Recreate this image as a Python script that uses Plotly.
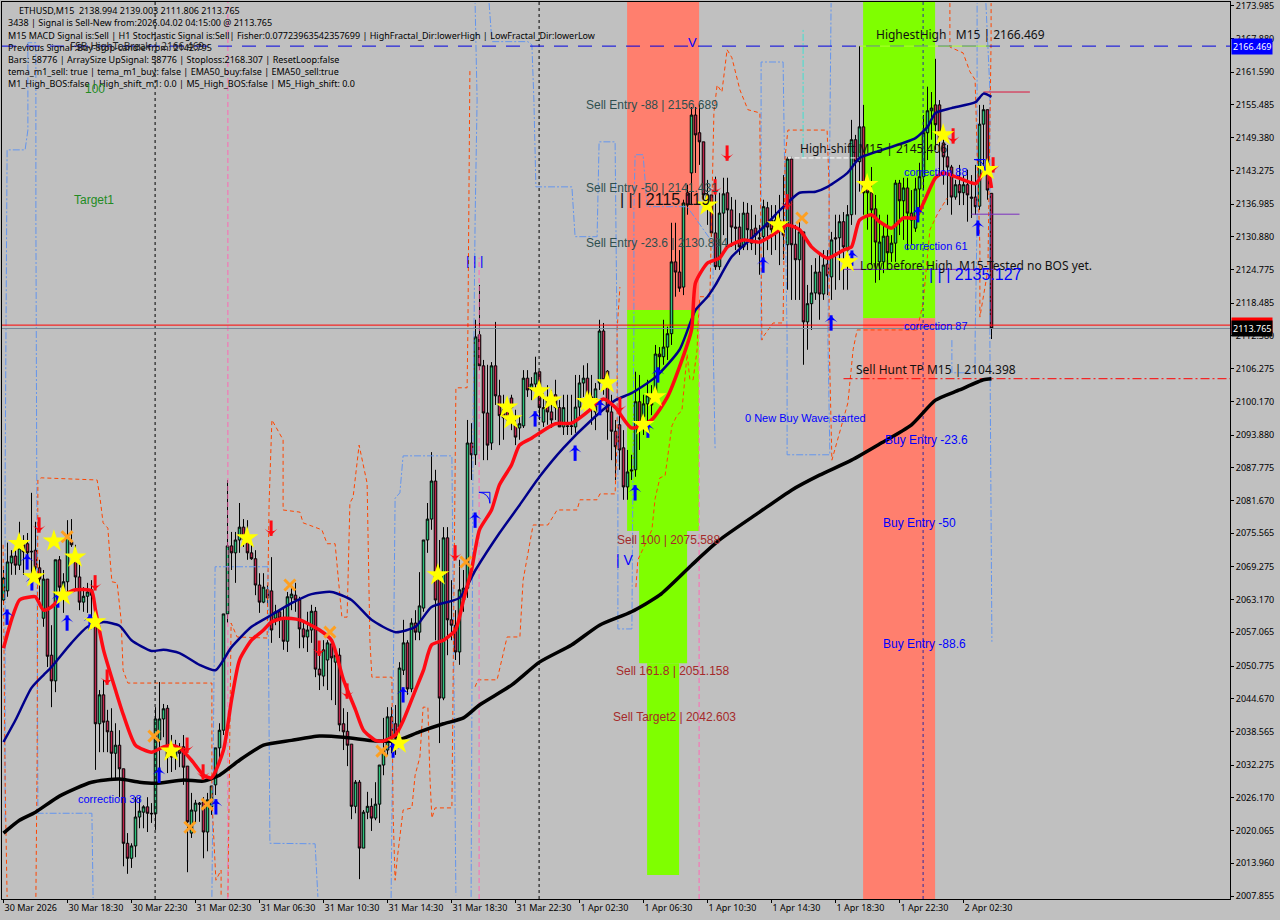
import plotly.graph_objects as go

# ---------- candles (M15 bars) ----------
opens = [
2063.1,2064.8,2070.0,2071.3,2069.6,2073.4,2073.6,2072.2,2072.4,2069.1,
2059.7,2067.0,2052.8,2048.0,2070.6,2063.7,2066.5,2073.9,2071.5,2067.4,
2062.7,2063.8,2065.0,2059.0,2040.0,2045.4,2040.5,2038.6,2034.5,2036.0,
2031.6,2017.7,2014.9,2017.2,2022.6,2023.5,2024.5,2023.3,2023.2,2037.0,
2040.9,2042.9,2035.1,2033.8,2035.1,2035.7,2032.1,2019.6,2023.7,2025.2,
2025.4,2019.8,2024.5,2028.6,2035.5,2038.8,2060.5,2073.2,2071.9,2074.3,
2076.7,2075.2,2071.9,2070.8,2065.9,2062.7,2065.0,2064.8,2059.7,2060.9,
2059.7,2055.4,2063.5,2064.0,2063.1,2057.7,2056.2,2057.5,2061.0,2050.2,
2048.9,2051.9,2054.9,2051.5,2052.8,2040.0,2038.6,2036.2,2024.6,2029.1,
2016.8,2023.5,2024.6,2022.4,2025.0,2032.3,2035.1,2041.3,2040.0,2039.4,
2050.0,2055.1,2046.5,2058.8,2057.1,2061.6,2074.3,2078.2,2085.3,2067.8,
2044.8,2074.7,2059.4,2058.4,2053.4,2063.1,2065.3,2092.4,2090.2,2112.6,
2106.8,2098.0,2092.4,2106.8,2101.2,2098.6,2099.5,2100.8,2095.8,2095.2,
2095.6,2104.5,2102.3,2103.4,2105.7,2096.3,2100.4,2098.2,2101.4,2099.0,
2095.4,2095.6,2095.6,2095.4,2099.1,2103.6,2104.5,2101.0,2098.2,2103.6,
2113.3,2105.8,2098.2,2094.6,2095.8,2091.5,2084.2,2087.4,2087.4,2100.1,
2097.3,2099.7,2101.2,2101.7,2109.0,2108.5,2110.3,2112.8,2126.2,2124.3,
2121.5,2139.1,2142.8,2153.6,2150.3,2148.6,2138.7,2138.7,2131.6,2125.3,
2135.3,2139.1,2135.9,2132.7,2132.7,2129.0,2135.3,2132.2,2132.5,2130.7,
2130.9,2136.3,2134.0,2132.2,2134.0,2132.5,2129.4,2145.4,2129.5,2126.6,
2131.8,2115.0,2118.4,2120.4,2124.3,2120.2,2125.8,2123.4,2130.7,2130.7,
2133.7,2128.4,2135.0,2149.0,2144.9,2151.4,2140.6,2139.1,2136.1,2126.2,
2126.2,2131.0,2127.9,2129.7,2140.9,2137.6,2140.0,2135.3,2132.5,2139.8,
2142.1,2150.3,2154.4,2155.5,2155.5,2148.4,2145.8,2143.9,2138.3,2140.6,
2139.1,2140.6,2138.3,2138.3,2136.6,2151.9,2154.6,2138.994]
highs = [
2068.7,2073.8,2072.4,2073.4,2077.7,2075.2,2075.6,2083.1,2077.7,2070.6,
2068.7,2067.0,2058.4,2070.6,2071.3,2068.1,2078.0,2078.2,2073.4,2070.6,
2065.5,2066.3,2066.8,2060.3,2046.3,2048.2,2042.6,2042.9,2040.1,2038.8,
2031.6,2019.6,2017.7,2026.3,2026.3,2024.8,2026.3,2025.2,2043.1,2047.8,
2043.7,2043.5,2037.9,2037.0,2036.4,2037.9,2032.1,2027.1,2025.8,2025.4,
2026.3,2027.1,2028.4,2035.5,2040.1,2060.5,2085.5,2075.8,2075.8,2081.2,
2078.2,2078.0,2073.7,2072.4,2068.1,2068.1,2065.9,2071.1,2062.2,2061.2,
2061.8,2064.6,2065.5,2066.3,2063.7,2058.8,2060.9,2062.2,2061.8,2053.8,
2055.6,2055.6,2055.6,2053.8,2054.1,2042.9,2042.2,2036.2,2029.5,2029.5,
2023.9,2027.3,2026.1,2029.1,2032.3,2041.1,2043.1,2043.1,2043.5,2051.5,
2059.4,2055.6,2059.7,2061.2,2068.3,2074.3,2081.2,2090.7,2087.4,2074.3,
2076.7,2076.7,2066.8,2061.2,2070.6,2068.7,2096.7,2096.1,2115.4,2121.9,
2107.9,2107.0,2107.5,2115.0,2104.2,2101.4,2100.8,2101.4,2098.6,2097.3,
2106.0,2106.0,2104.7,2108.5,2105.7,2101.7,2103.2,2102.3,2104.2,2100.4,
2101.4,2101.4,2101.4,2105.1,2105.1,2106.9,2107.3,2105.1,2103.6,2115.4,
2114.8,2106.0,2101.4,2096.7,2099.5,2094.8,2091.1,2090.2,2105.7,2105.1,
2101.4,2104.2,2103.2,2110.7,2110.3,2115.4,2114.1,2133.5,2133.5,2128.4,
2137.8,2140.6,2155.1,2155.1,2155.5,2148.6,2141.5,2138.7,2142.1,2139.1,
2141.9,2141.9,2138.3,2137.8,2135.3,2137.4,2137.2,2136.8,2135.0,2133.1,
2137.8,2137.4,2136.8,2136.8,2138.7,2142.4,2145.8,2145.8,2133.1,2133.8,
2131.8,2121.9,2125.6,2126.9,2127.5,2128.4,2128.4,2131.8,2135.0,2135.0,
2135.5,2136.8,2152.7,2149.9,2166.5,2155.5,2142.1,2143.9,2138.7,2135.0,
2133.1,2135.0,2131.2,2141.5,2141.5,2141.9,2141.9,2139.6,2141.9,2144.7,
2153.6,2158.9,2157.9,2164.1,2156.4,2149.9,2148.0,2144.3,2141.5,2144.3,
2142.4,2143.4,2142.4,2144.3,2155.5,2155.5,2154.6,2139.003]
lows = [
2062.2,2063.7,2067.8,2067.8,2068.7,2067.8,2070.0,2067.4,2066.8,2063.1,
2058.1,2050.6,2043.1,2045.9,2064.0,2060.7,2064.4,2073.0,2065.0,2061.2,
2060.9,2060.7,2059.9,2031.4,2034.7,2034.7,2034.7,2029.5,2029.5,2026.3,
2013.4,2012.0,2013.1,2015.1,2020.5,2020.5,2019.8,2021.5,2020.2,2028.9,
2037.5,2030.8,2031.0,2031.4,2031.9,2028.6,2012.3,2018.7,2021.5,2021.7,
2014.9,2016.2,2023.0,2026.7,2033.2,2037.9,2058.8,2068.7,2066.3,2071.9,
2073.0,2070.6,2070.6,2064.0,2060.7,2062.5,2062.2,2055.1,2058.4,2056.0,
2053.8,2053.4,2061.2,2060.9,2054.1,2054.1,2053.4,2055.1,2048.7,2046.3,
2047.0,2046.3,2044.4,2043.5,2038.6,2035.1,2032.1,2022.2,2023.3,2011.0,
2016.8,2022.2,2020.0,2022.0,2021.5,2030.4,2034.2,2034.5,2034.2,2036.0,
2049.1,2045.4,2045.9,2055.6,2055.6,2060.9,2071.9,2076.2,2055.6,2036.4,
2044.4,2052.8,2055.6,2051.9,2051.0,2060.9,2063.5,2085.5,2088.3,2106.0,
2089.2,2089.2,2091.1,2099.5,2092.0,2093.0,2095.8,2094.8,2092.0,2093.0,
2095.2,2101.0,2100.4,2102.3,2096.7,2095.4,2095.8,2095.2,2096.7,2095.4,
2093.9,2093.9,2093.9,2094.3,2096.7,2101.0,2100.4,2095.8,2094.8,2102.3,
2101.4,2093.0,2089.2,2085.5,2087.4,2081.8,2081.8,2085.5,2086.1,2091.1,
2093.9,2095.8,2097.6,2100.4,2106.0,2107.0,2107.9,2110.7,2119.7,2120.6,
2120.0,2135.0,2136.8,2142.8,2144.3,2137.8,2133.1,2130.9,2124.7,2124.7,
2131.2,2129.4,2129.0,2128.4,2127.5,2128.4,2128.4,2128.4,2127.5,2123.8,
2126.6,2128.4,2127.5,2128.4,2125.6,2126.6,2121.0,2119.1,2119.1,2119.1,
2107.0,2109.8,2113.5,2119.1,2115.4,2119.1,2120.0,2119.1,2121.0,2122.8,
2121.0,2121.0,2133.1,2135.0,2139.3,2135.0,2132.2,2125.6,2122.3,2122.8,
2124.1,2124.7,2126.2,2126.2,2131.2,2130.3,2128.4,2129.4,2131.8,2135.0,
2139.6,2145.2,2149.0,2147.1,2142.4,2140.6,2136.8,2135.0,2137.8,2136.8,
2136.8,2133.7,2134.4,2135.0,2135.9,2143.4,2137.8,2111.806]
closes = [
2067.2,2070.2,2071.3,2069.6,2072.8,2072.1,2071.9,2072.1,2069.1,2067.0,
2067.0,2052.6,2048.0,2070.6,2065.5,2066.5,2074.9,2073.4,2067.4,2062.7,
2063.8,2064.6,2064.0,2040.0,2045.4,2040.3,2038.5,2034.5,2036.0,2031.6,
2017.7,2014.9,2017.2,2022.6,2023.7,2024.5,2023.3,2023.2,2040.9,2040.9,
2042.8,2033.8,2033.8,2035.1,2034.5,2031.9,2021.7,2023.9,2025.2,2025.0,
2019.8,2025.8,2028.4,2035.5,2038.8,2060.5,2073.2,2071.9,2074.3,2076.7,
2074.5,2071.9,2070.8,2065.9,2062.7,2065.5,2063.5,2057.5,2060.9,2059.7,
2055.4,2063.7,2064.2,2063.1,2057.7,2056.2,2057.5,2061.0,2050.2,2049.1,
2053.8,2055.1,2052.3,2052.8,2039.8,2038.5,2036.0,2024.6,2029.1,2016.8,
2023.5,2024.6,2022.4,2025.0,2032.3,2035.1,2041.3,2037.3,2037.3,2050.4,
2055.1,2046.5,2058.8,2057.1,2062.0,2074.3,2078.2,2085.3,2063.1,2044.8,
2074.7,2059.4,2058.4,2053.4,2065.0,2065.3,2092.4,2090.2,2112.2,2106.8,
2098.0,2092.0,2106.8,2101.2,2097.5,2097.1,2096.7,2099.0,2093.5,2096.0,
2104.5,2102.3,2103.4,2105.5,2099.0,2099.0,2098.2,2096.7,2099.0,2095.4,
2099.0,2095.5,2095.5,2099.1,2103.6,2104.5,2101.0,2099.5,2102.5,2113.3,
2104.2,2098.2,2094.6,2091.7,2091.1,2084.2,2087.0,2087.2,2100.1,2095.4,
2099.7,2101.2,2099.5,2109.0,2108.5,2110.3,2112.8,2126.2,2124.3,2121.3,
2137.2,2136.8,2153.6,2149.9,2148.6,2138.7,2136.3,2131.6,2125.3,2135.3,
2138.9,2135.9,2132.7,2132.5,2129.0,2135.3,2132.2,2129.7,2131.2,2130.5,
2136.5,2132.7,2132.2,2134.0,2132.5,2131.2,2145.4,2129.4,2126.6,2131.8,
2115.0,2118.4,2120.4,2124.3,2120.2,2125.6,2123.6,2130.3,2130.5,2133.7,
2129.0,2135.0,2149.0,2144.9,2151.4,2139.1,2139.1,2135.9,2129.9,2129.9,
2131.0,2127.9,2129.7,2140.9,2137.6,2140.0,2135.3,2134.0,2139.8,2142.1,
2150.3,2154.4,2154.9,2151.8,2149.0,2145.8,2143.9,2138.3,2140.6,2139.1,
2140.6,2138.7,2138.1,2136.5,2151.9,2154.6,2139.6,2113.765]

# ---------- moving averages ----------
red_bars = [0,2,4,7,8,10,12,15,18,22,23,25,28,30,33,37,40,42,44,47,50,52,55,57,59,62,65,67,70,74,79,82,85,88,90,93,95,98,100,103,105,107,110,113,115,117,119,122,124,127,129,132,138,142,146,150,153,157,162,166,169,172,173,176,179,181,185,189,193,196,199,202,206,210,212,214,217,219,222,225,228,230,233,235,238,243,245,246,247]
red_line = [2054.1,2059.4,2063.1,2063.7,2063.7,2061.2,2061.8,2064.0,2065.0,2064.8,2061.2,2053.8,2046.3,2041.6,2036.0,2034.7,2035.7,2036.0,2035.5,2033.2,2030.4,2029.9,2035.1,2044.4,2051.9,2055.6,2057.5,2059.0,2059.7,2059.4,2057.5,2055.6,2048.2,2042.6,2038.8,2036.9,2036.8,2037.9,2040.7,2046.3,2050.0,2054.7,2055.6,2057.5,2063.1,2068.7,2076.2,2079.9,2084.6,2088.3,2092.0,2093.3,2096.0,2096.1,2098.2,2100.6,2099.0,2095.2,2096.7,2101.0,2106.6,2113.5,2122.3,2126.0,2126.9,2129.0,2130.3,2129.9,2131.6,2133.1,2132.2,2129.0,2126.9,2128.4,2129.0,2134.0,2135.0,2133.7,2132.5,2134.4,2134.4,2137.2,2141.9,2142.8,2142.1,2140.8,2142.8,2143.4,2140.0]
navy_bars = [0,3,7,10,12,17,21,25,29,32,37,40,44,49,53,57,62,67,72,77,82,87,92,98,103,107,114,118,124,129,134,140,147,153,157,163,169,173,176,178,182,186,190,195,199,203,206,211,214,218,228,231,233,237,243,245,247]
navy_line = [2036.6,2040.7,2046.7,2049.1,2050.6,2055.1,2058.1,2059.0,2058.3,2055.6,2053.6,2053.8,2053.2,2051.0,2050.0,2054.3,2058.1,2060.3,2062.5,2064.2,2064.6,2063.1,2059.4,2057.1,2058.1,2061.8,2063.5,2068.7,2075.6,2080.8,2086.1,2091.5,2096.7,2100.4,2101.7,2104.7,2109.8,2117.2,2119.7,2121.9,2127.1,2129.9,2132.7,2136.5,2139.1,2139.3,2140.2,2142.8,2145.6,2146.7,2149.3,2151.4,2154.0,2154.9,2156.0,2157.6,2157.0]
black_bars = [0,4,8,14,22,29,34,38,45,50,54,59,65,72,79,85,93,98,104,110,115,119,127,134,142,149,157,164,172,179,189,197,204,212,219,227,233,239,245,247]
black_line = [2019.6,2022.0,2023.5,2026.5,2029.1,2029.7,2029.1,2028.9,2029.5,2029.3,2030.4,2033.2,2036.0,2036.9,2037.7,2037.5,2036.8,2036.8,2038.5,2040.0,2041.1,2043.5,2047.2,2051.5,2054.7,2058.4,2060.9,2064.0,2069.6,2074.3,2079.5,2083.6,2086.4,2089.2,2092.2,2095.8,2100.4,2102.3,2104.2,2104.4]

# ---------- stepped envelopes ----------
blue_bars = [0.4,0.4,0.9,5.4,6.1,6.1,8.1,8.1,8.6,22.1,22.4,None,
 52.1,52.6,52.9,66.1,66.6,77.9,78.6,None,
 96.9,97.4,97.9,99.1,99.9,112.1,112.9,113.1,None,
 116.9,117.4,117.9,118.4,117.9,None,
 121.4,122.1,131.1,132.1,132.6,133.1,142.1,142.9,148.4,148.9,152.9,153.6,153.6,157.1,157.6,157.6,157.9,159.9,160.9,170.9,177.4,177.4,177.9,None,
 189.4,189.4,194.9,195.9,195.9,206.6,206.1,206.9,206.9,None,
 237.1,237.1,242.9,242.9,243.4,243.4,243.4,None,
 245.6,246.6,246.6,247.1]
blue_vals = [2022.0,2085.5,2147.1,2147.1,2150.8,2167.1,2167.1,2134.0,2023.3,2023.3,2007.5,None,
 2007.7,2040.7,2069.3,2069.3,2017.7,2017.6,2007.7,None,
 2007.5,2051.9,2082.1,2083.1,2090.0,2090.0,2012.7,2008.0,None,
 2007.7,2096.7,2134.0,2156.4,2174.5,None,
 2174.5,2167.3,2167.3,2166.7,2156.4,2140.2,2140.2,2130.9,2130.9,2148.6,2148.6,2096.1,2057.7,2057.7,2113.5,2135.9,2146.2,2146.2,2136.5,2136.5,2129.7,2112.0,2091.1,None,
 2111.6,2163.5,2163.5,2112.0,2090.2,2090.2,2112.0,2169.5,2174.5,None,
 2111.6,2105.5,2105.5,2111.6,2134.0,2169.5,2174.5,None,
 2174.5,2158.3,2111.6,2055.3]
orange_bars = [-0.1,0.4,0.9,None,
 8.1,8.4,8.6,9.4,23.4,24.1,24.9,26.1,26.6,27.1,28.4,29.4,29.9,31.1,52.1,52.1,53.1,54.4,54.4,None,
 56.1,56.4,56.6,56.9,58.4,65.9,66.4,66.9,67.1,69.9,69.9,74.1,74.9,79.6,80.9,82.9,83.9,84.6,85.9,86.6,87.4,88.9,90.9,91.6,92.1,97.1,97.4,97.9,98.4,99.6,99.9,102.1,102.9,104.1,104.9,106.1,106.6,107.1,107.9,112.1,112.4,112.9,113.1,115.9,116.1,116.6,None,
 117.9,118.6,123.4,124.6,125.9,129.1,129.9,132.4,136.1,138.4,143.4,144.1,148.4,149.1,152.9,153.4,153.4,154.1,None,
 158.1,158.6,162.1,162.9,164.1,165.4,167.1,168.4,169.6,170.9,171.6,172.4,173.4,173.6,174.1,176.6,177.6,178.4,179.6,180.9,182.1,184.1,186.1,189.1,189.1,189.6,189.9,192.4,194.9,195.4,196.1,205.9,206.4,206.4,207.1,211.1,212.4,213.4,228.4,229.9,231.6,233.6,235.9,None,
 236.6,236.6,239.9,241.6,242.9,243.4,244.1,244.1,246.1,246.9,246.9]
orange_vals = [2073.4,2029.5,2007.7,None,
 2007.7,2033.2,2085.5,2085.9,2085.5,2082.3,2077.5,2076.5,2071.1,2066.5,2066.3,2059.4,2050.0,2047.6,2047.6,2025.8,2010.8,2012.7,2007.7,None,
 2007.7,2024.5,2040.7,2058.8,2056.2,2056.0,2081.2,2094.8,2096.7,2093.0,2079.9,2079.5,2077.5,2076.2,2073.6,2073.6,2066.3,2059.9,2059.9,2081.2,2082.3,2092.0,2084.9,2055.6,2048.7,2048.7,2023.3,2010.8,2014.6,2021.5,2023.9,2024.3,2030.4,2033.8,2043.1,2043.1,2030.1,2022.4,2024.3,2024.3,2051.9,2096.7,2102.7,2102.7,2113.5,2162.0,None,
 2046.9,2048.2,2048.2,2051.9,2056.2,2056.2,2066.8,2077.1,2077.1,2079.9,2079.9,2081.8,2081.8,2082.9,2082.9,2093.0,2113.5,2121.5,None,
 2065.5,2070.6,2076.2,2082.0,2085.9,2086.3,2095.6,2097.6,2098.4,2109.0,2104.2,2104.2,2109.8,2114.1,2119.7,2119.7,2154.0,2159.2,2157.9,2165.8,2164.3,2158.3,2154.6,2154.0,2150.8,2111.6,2112.2,2114.8,2114.8,2145.8,2150.8,2150.8,2140.2,2112.0,2089.2,2099.9,2109.8,2113.5,2113.5,2118.5,2132.2,2135.3,2138.1,None,
 2174.5,2166.3,2165.2,2161.7,2160.2,2144.7,2128.8,2115.9,2124.7,2167.6,2174.5]

# ---------- signals ----------
star_bars = [3.9,7.6,12.6,14.9,17.9,22.9,41.9,60.9,98.9,108.6,125.9,126.9,133.9,136.9,145.9,146.6,150.9,159.9,162.9,175.9,193.6,210.9,215.9,234.9,245.9]
star_vals = [2073.6,2067.4,2074.1,2064.0,2071.1,2059.0,2034.9,2074.7,2036.4,2067.8,2099.1,2096.9,2102.1,2100.4,2100.1,2099.9,2103.6,2095.8,2101.0,2136.8,2133.1,2126.2,2140.6,2149.9,2143.4]
sell_bars = [8.9,22.9,25.9,45.9,49.9,66.9,78.9,85.9,112.9,154.1,177.9,180.9,195.9,237.4,247.4]
sell_vals = [2077.1,2066.3,2048.7,2036.0,2031.0,2076.5,2054.1,2046.1,2071.9,2099.5,2140.2,2146.5,2137.4,2149.7,2144.3]
buy_bars = [0.9,5.9,7.1,13.6,15.9,21.6,38.9,53.1,97.4,99.9,117.9,132.9,142.9,149.1,157.9,161.1,163.6,189.9,206.9,212.1,228.6,243.6]
buy_vals = [2059.9,2070.2,2066.3,2063.1,2058.8,2059.0,2030.4,2024.5,2035.1,2045.4,2078.0,2096.9,2090.5,2099.0,2083.1,2094.8,2105.1,2125.6,2114.8,2126.9,2135.0,2132.5]
cross_bars = [15.9,37.6,46.6,50.9,71.6,81.6,94.6,115.6,199.6]
cross_vals = [2074.9,2037.7,2020.7,2025.0,2065.9,2057.1,2034.9,2070.2,2134.4]

# ---------- levels and zones ----------
PRICE_MIN, PRICE_MAX = 2007.3, 2174.7
BAR_MIN, BAR_MAX = -0.375, 306.625
highest_high = 2166.469
bid_price = 2113.765
ask_price = 2114.4
hunt_tp = 2104.398
zone_start = [155.9,155.9,158.9,160.9,214.9,214.9]
zone_end   = [173.9,173.9,170.9,168.9,232.9,232.9]
zone_top   = [PRICE_MAX,2117.2,2076.0,2051.3,PRICE_MAX,2115.7]
zone_low   = [2117.2,2076.0,2051.3,2011.8,2115.7,PRICE_MIN]
zone_fill  = ["#FF7F6E","#7FFF00","#7FFF00","#7FFF00","#7FFF00","#FF7F6E"]

price_ticks = [2173.985,2167.880,2161.590,2155.485,2149.380,2143.275,2136.985,2130.880,2124.775,2118.485,2112.380,2106.275,2100.170,2093.880,2087.775,2081.670,2075.565,2069.275,2063.170,2057.065,2050.775,2044.670,2038.565,2032.275,2026.170,2020.065,2013.960,2007.855]
time_ticks = list(range(0,256,16))
time_labels = ["30 Mar 2026","30 Mar 18:30","30 Mar 22:30","31 Mar 02:30","31 Mar 06:30","31 Mar 10:30","31 Mar 14:30","31 Mar 18:30","31 Mar 22:30","1 Apr 02:30","1 Apr 06:30","1 Apr 10:30","1 Apr 14:30","1 Apr 18:30","1 Apr 22:30","2 Apr 02:30"]

TAHOMA = "Noto Sans"
ARIAL = "Liberation Sans"
ARROW_TIP = 1.3  # price units from a signal's centre to its arrow tip

info_lines = [
 (3.6,2173.2,"ETHUSD,M15  2138.994 2139.003 2111.806 2113.765"),
 (0.9,2170.8,"3438 | Signal is Sell-New from:2026.04.02 04:15:00 @ 2113.765"),
 (0.9,2168.5,"M15 MACD Signal is:Sell | H1 Stochastic Signal is:Sell| Fisher:0.07723963542357699 | HighFractal_Dir:lowerHigh | LowFractal_Dir:lowerLow"),
 (0.9,2166.3,"Previous Signal :Buy-Stop-candle from: 2142.795"),
 (0.9,2163.9,"Bars: 58776 | ArraySize UpSignal: 58776 | Stoploss:2168.307 | ResetLoop:false"),
 (0.9,2161.7,"tema_m1_sell: true | tema_m1_buy: false | EMA50_buy:false | EMA50_sell:true"),
 (0.9,2159.4,"M1_High_BOS:false | High_shift_m1: 0.0 | M5_High_BOS:false | M5_High_shift: 0.0"),
]
labels = [
 (16.4,2166.4,"FSB-HighToBreak | 2166.469","#222222",TAHOMA,10),
 (20.1,2158.5,"100","#228B22",ARIAL,12),
 (17.4,2137.8,"Target1","#228B22",ARIAL,12),
 (145.4,2155.5,"Sell Entry -88 | 2156.689","#2F4F4F",ARIAL,12),
 (145.4,2140.0,"Sell Entry -50 | 2141.431","#2F4F4F",ARIAL,12),
 (145.4,2129.7,"Sell Entry -23.6 | 2130.894","#2F4F4F",ARIAL,12),
 (153.9,2137.8,"| | | 2115.119","#111111",ARIAL,16),
 (198.9,2147.3,"High-shift M15 | 2145.406","#111111",TAHOMA,12),
 (217.9,2168.6,"HighestHigh   M15 | 2166.469","#111111",TAHOMA,12),
 (213.9,2125.6,"Low before High  M15-Tested no BOS yet.","#111111",TAHOMA,12),
 (231.1,2123.8,"| | | 2135.127","#0000FF",ARIAL,16),
 (224.9,2143.0,"correction 88","#0000FF",ARIAL,11),
 (224.9,2129.2,"correction 61","#0000FF",ARIAL,11),
 (224.9,2114.2,"correction 87","#0000FF",ARIAL,11),
 (18.4,2026.0,"correction 38","#0000FF",ARIAL,11),
 (185.1,2097.1,"0 New Buy Wave started","#0000FF",ARIAL,11),
 (212.9,2106.2,"Sell Hunt TP M15 | 2104.398","#111111",TAHOMA,12),
 (220.0,2092.9,"Buy Entry -23.6","#0000FF",ARIAL,12),
 (219.6,2077.5,"Buy Entry -50","#0000FF",ARIAL,12),
 (219.6,2054.9,"Buy Entry -88.6","#0000FF",ARIAL,12),
 (153.1,2074.3,"Sell 100 | 2075.588","#A52A2A",ARIAL,12),
 (152.9,2049.8,"Sell 161.8 | 2051.158","#A52A2A",ARIAL,12),
 (152.1,2041.3,"Sell Target2 | 2042.603","#A52A2A",ARIAL,12),
 (115.4,2126.4,"| | |","#0000FF",ARIAL,13),
 (152.9,2070.6,"| V","#0000FF",ARIAL,14),
 (170.9,2167.1,"V","#0000FF",ARIAL,13),
]

fig = go.Figure()

def path(x, y, color, width, dash="solid", smooth=False):
    line = dict(color=color, width=width, dash=dash)
    if smooth:
        line.update(shape="spline", smoothing=0.6)
    fig.add_trace(go.Scatter(x=x, y=y, mode="lines", line=line, hoverinfo="skip"))

def dots(x, y, symbol, size, color, edge=None, edge_w=0, angle=0):
    fig.add_trace(go.Scatter(x=x, y=y, mode="markers", hoverinfo="skip",
        marker=dict(symbol=symbol, size=size, color=color, angle=angle,
                    line=dict(color=edge or color, width=edge_w))))

# thin level and period lines
DASH_ORANGE = "4px,3px"
DASH_BLUE = "7px,2px,2px,2px"
DASH_BLACK = "3px,3px"
path(blue_bars, blue_vals, "#6495ED", 1, DASH_BLUE)
path(orange_bars, orange_vals, "#FF4500", 1, DASH_ORANGE)
path([37.9,37.9], [PRICE_MIN,PRICE_MAX], "#000000", 1, DASH_BLACK)
path([133.9,133.9], [PRICE_MIN,PRICE_MAX], "#000000", 1, DASH_BLACK)
path([229.9,229.9], [PRICE_MIN,PRICE_MAX], "#2A2AA0", 1, DASH_BLACK)
path([56.1,56.1], [PRICE_MIN,PRICE_MAX], "#FF69B4", 1, "5px,3px")
path([118.9,118.9], [PRICE_MIN,2127.0], "#FF69B4", 1, "5px,3px")
path([173.9,173.9], [PRICE_MIN,2117.2], "#FF69B4", 1, "5px,3px")
path([199.9,199.9], [2145.6,2169.5], "#40E0D0", 1, DASH_BLUE)
path([BAR_MIN,BAR_MAX], [highest_high,highest_high], "#0000E0", 1, "14px,10px")
path([214,246.5], [highest_high,highest_high], "#ADFF2F", 1)
path([BAR_MIN,BAR_MAX], [ask_price,ask_price], "#FF0000", 1)
path([BAR_MIN,BAR_MAX], [bid_price,bid_price], "#778899", 1)
path([210,BAR_MAX], [hunt_tp,hunt_tp], "#FF0000", 1, "9px,3px,2px,3px")
path([210,248], [2124.8,2124.8], "#7B2FBE", 1)
path([242,254], [2135.1,2135.1], "#7B2FBE", 1)
path([245,256.6], [2157.9,2157.9], "#DC143C", 1)
path([196,214], [2145.6,2145.6], "#FFFFFF", 1, "5px,2px")

# candles
fig.add_trace(go.Candlestick(
    x=list(range(len(opens))), open=opens, high=highs, low=lows, close=closes,
    increasing=dict(line=dict(color="#000000", width=1), fillcolor="#2CC27C"),
    decreasing=dict(line=dict(color="#000000", width=1), fillcolor="#C0244C"),
    whiskerwidth=0, hoverinfo="skip"))

# moving averages
path(black_bars, black_line, "#000000", 3.5, smooth=True)
path(navy_bars, navy_line, "#00008B", 2.5, smooth=True)
path(red_bars, red_line, "#FF0A14", 3.5, smooth=True)

# signal markers: stem plus arrow head
dots(buy_bars, buy_vals, "line-ns", 11, "#0000FF", edge="#0000FF", edge_w=3)
dots(buy_bars, [v + ARROW_TIP for v in buy_vals], "arrow-wide", 9, "#0000FF")
dots(sell_bars, sell_vals, "line-ns", 11, "#FF0A14", edge="#FF0A14", edge_w=3)
dots(sell_bars, [v - ARROW_TIP for v in sell_vals], "arrow-wide", 9, "#FF0A14", angle=180)
dots(cross_bars, cross_vals, "x-thin", 11, "#FFA020", edge="#FFA020", edge_w=3)
dots(star_bars, star_vals, "star", 17, "#FFFF00")
dots([121.6,245.4], [2083.2,2145.3], "arrow-wide-open", 11, "#0000FF", edge="#0000FF", edge_w=1, angle=45)

ann = []
for x, y, t in info_lines:
    ann.append(dict(x=x, y=y, text=t, font=dict(family=TAHOMA, size=9, color="#000000")))
for x, y, t, c, f, s in labels:
    ann.append(dict(x=x, y=y, text=t, font=dict(family=f, size=s, color=c)))
for a in ann:
    a.update(xref="x", yref="y", xanchor="left", yanchor="middle", showarrow=False, borderpad=0)

# price flags on the axis
for value, bg, fg in [(highest_high,"#0000FF","#FFFFFF"), (ask_price,"#FF0000","#FF0000"), (bid_price,"#000000","#FFFFFF")]:
    ann.append(dict(xref="paper", yref="y", x=1.0, y=value, xanchor="left", yanchor="middle", xshift=1,
                    text=f"{value:.3f}", showarrow=False, bgcolor=bg, borderpad=1,
                    font=dict(family=TAHOMA, size=9, color=fg)))

shapes = [dict(type="rect", layer="below", xref="x", yref="y", x0=a, x1=b, y0=lo, y1=hi, fillcolor=c, line_width=0)
          for a, b, hi, lo, c in zip(zone_start, zone_end, zone_top, zone_low, zone_fill)]

fig.update_layout(
    width=1280, height=920, margin=dict(l=2, r=50, t=2, b=21, pad=0, autoexpand=False),
    paper_bgcolor="#C0C0C0", plot_bgcolor="#C0C0C0", showlegend=False, hovermode=False,
    annotations=ann, shapes=shapes, boxgap=0.1,
    xaxis=dict(range=[BAR_MIN,BAR_MAX], rangeslider=dict(visible=False), showgrid=False, zeroline=False,
               tickmode="array", tickvals=time_ticks, ticktext=time_labels, tickangle=0, automargin=False,
               ticks="outside", ticklen=3, tickcolor="#000000", ticklabelposition="outside right",
               tickfont=dict(family=TAHOMA, size=9, color="#000000"),
               showline=True, linecolor="#000000", linewidth=1, mirror=True),
    yaxis=dict(range=[PRICE_MIN,PRICE_MAX], side="right", showgrid=False, zeroline=False, automargin=False,
               tickmode="array", tickvals=price_ticks, ticktext=[f"{v:.3f}" for v in price_ticks],
               ticks="outside", ticklen=3, tickcolor="#000000", ticklabeloverflow="allow",
               tickfont=dict(family=TAHOMA, size=9, color="#000000"),
               showline=True, linecolor="#000000", linewidth=1, mirror=True),
)

fig.write_html("out.html", config=dict(displayModeBar=False),
               post_script="document.body.style.margin='0';document.body.style.overflow='hidden';document.body.style.background='#C0C0C0';")
